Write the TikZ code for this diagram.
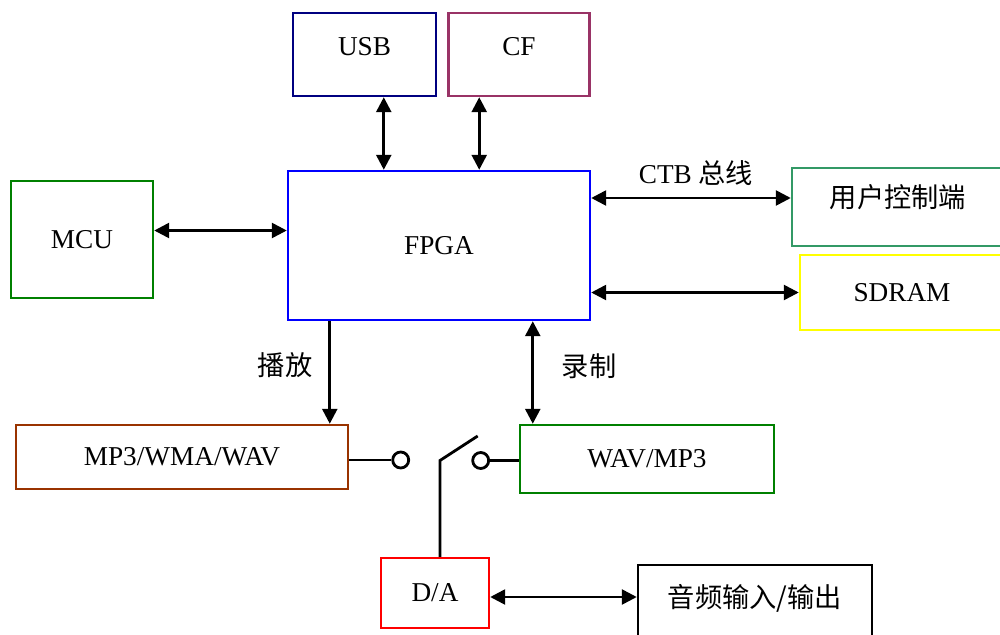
\documentclass[tikz,border=0pt]{standalone}
\usepackage{fontspec}
\setmainfont{Liberation Serif}
\newfontfamily\cjk{Noto Sans CJK SC}
\usetikzlibrary{arrows.meta, positioning, calc}
\definecolor{usbline}{HTML}{000080}
\definecolor{cfline}{HTML}{993366}
\definecolor{fpgaline}{HTML}{0000FF}
\definecolor{mculine}{HTML}{008000}
\definecolor{ctlline}{HTML}{339966}
\definecolor{ramline}{HTML}{FFFF00}
\definecolor{playline}{HTML}{993300}
\definecolor{recline}{HTML}{008000}
\definecolor{daline}{HTML}{FF0000}
\tikzset{
  every node/.style = {font=\fontsize{15.5}{18}\selectfont},
  blkbox/.style = {draw, line width=1.4pt, inner sep=2pt},
  bidir/.style  = {{Triangle[length=3mm, width=3mm]}-{Triangle[length=3mm, width=3mm]},
                   line width=1.5pt},
  oneway/.style = {-{Triangle[length=3mm, width=3mm]}, line width=1.5pt},
  wire/.style   = {line width=1.6pt},
  swdot/.style  = {circle, draw, line width=1.6pt, minimum size=3.2mm,
                   inner sep=0pt, fill=white},
}

\begin{document}
\begin{tikzpicture}
                \useasboundingbox (0,0) rectangle (20,-12.7);
                \node[blkbox, draw=usbline, minimum width=28.6mm, minimum height=16.6mm,
                      label={[yshift=1.6mm]center:USB}] (usb) at (7.29,-1.09) {};
                \node[blkbox, draw=cfline, right=2mm of usb, minimum width=28.2mm,
                      minimum height=16.6mm, label={[yshift=1.6mm]center:CF}] (cf) {};
                \node[blkbox, draw=fpgaline, minimum width=60.4mm, minimum height=29.8mm]
                     (fpga) at (8.78,-4.91) {FPGA};
                \node[blkbox, draw=mculine, minimum width=28.4mm, minimum height=23.4mm]
                     (mcu) at (1.64,-4.79) {MCU};
                \node[blkbox, draw=ctlline, minimum width=42.4mm, minimum height=15.6mm,
                      label={[yshift=2mm]center:{\cjk 用户控制端}}] (ctl) at (17.96,-4.14) {};
                \node[blkbox, draw=ramline, minimum width=40.8mm, minimum height=15mm]
                     (sdram) at (18.04,-5.85) {SDRAM};
                \node[blkbox, draw=playline, minimum width=66.4mm, minimum height=12.8mm]
                     (mp3) at (3.64,-9.14) {MP3/WMA/WAV};
                \node[blkbox, draw=recline, minimum width=50.8mm, minimum height=13.6mm]
                     (wav) at (12.94,-9.18) {WAV/MP3};
                \node[blkbox, draw=daline, minimum width=21.6mm, minimum height=14mm]
                     (da) at (8.70,-11.86) {D/A};
                \node[blkbox, minimum width=46.8mm, minimum height=15mm,
                      label={[yshift=0.9mm]center:{\cjk 音频输入/输出}}] (audio) at (15.10,-12.05) {};
                \node (lblctb) at (13.92,-3.46) {CTB {\cjk 总线}};
                \node (lblplay) at (5.70,-7.30) {\cjk 播放};
                \node (lblrec) at (11.78,-7.32) {\cjk 录制};
                % switch
                \node[swdot] (lsw) at (8.014,-9.20) {};
                \node[swdot] (rsw) at (9.614,-9.21) {};
                \coordinate (pivot) at (8.80,-9.21);
                \coordinate (blade) at (9.554,-8.72);
                \draw[wire] (lsw.west -| mp3.east) -- (lsw.west);
                \draw[wire] (rsw.east) -- (rsw.east -| wav.west);
                \draw[wire] (pivot |- da.north) -- (pivot) -- (blade);
                \draw[bidir] ([xshift=18.4mm]usb.south west) -- ([xshift=18.4mm]usb.south west |- fpga.north);
                \draw[bidir] ([xshift=6.4mm]cf.south west) -- ([xshift=6.4mm]cf.south west |- fpga.north);
                \draw[bidir] ([yshift=1.8mm]mcu.east) -- ([yshift=1.8mm]mcu.east -| fpga.west);
                \draw[bidir] ([yshift=1.8mm]ctl.west -| fpga.east) -- ([yshift=1.8mm]ctl.west);
                \draw[bidir] (sdram.west -| fpga.east) -- (sdram.west);
                \draw[oneway] ([xshift=8.6mm]fpga.south west) -- ([xshift=8.6mm]fpga.south west |- mp3.north);
                \draw[bidir] ([xshift=2.8mm]wav.north west |- fpga.south) -- ([xshift=2.8mm]wav.north west);
                \draw[bidir] ([yshift=-0.8mm]da.east) -- ([yshift=-0.8mm]da.east -| audio.west);
            \end{tikzpicture}
\end{document}
